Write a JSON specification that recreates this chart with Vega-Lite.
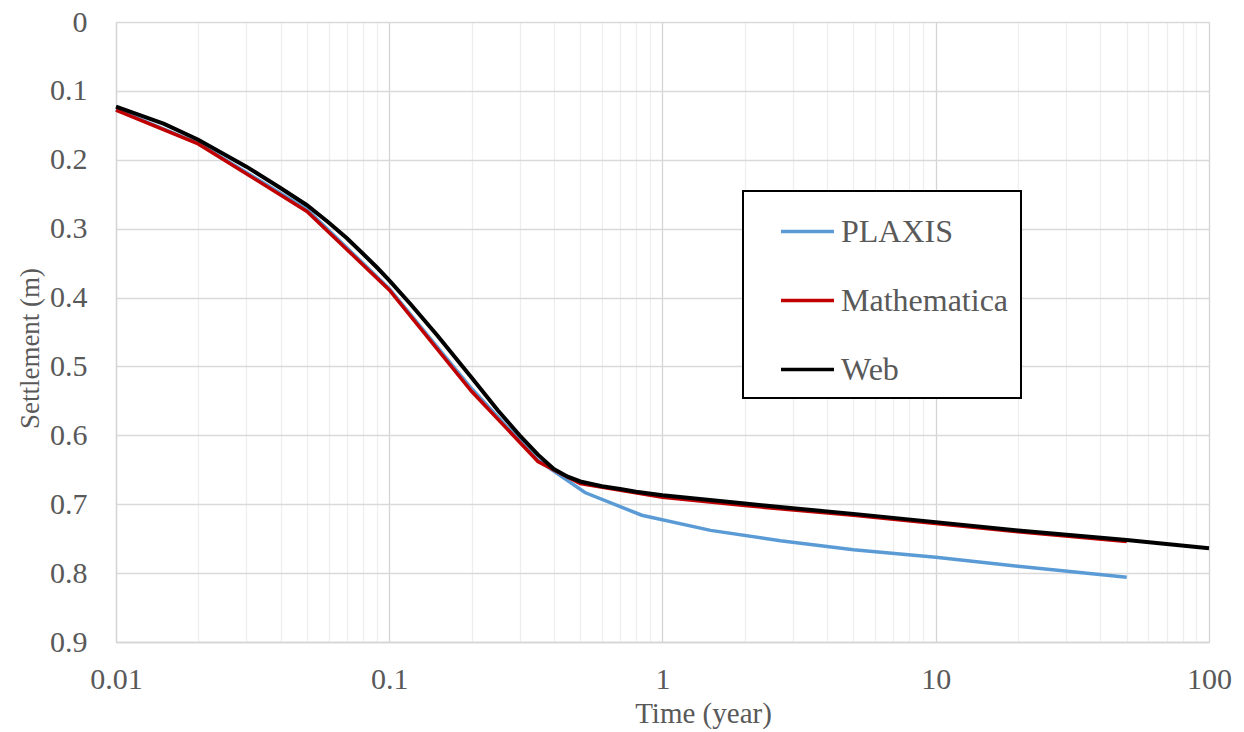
{
  "$schema": "https://vega.github.io/schema/vega-lite/v6.json",
  "width": 1093,
  "height": 620,
  "autosize": {"type": "none"},
  "padding": {"left": 116, "top": 22, "right": 35, "bottom": 90},
  "background": "white",
  "config": {"view": {"stroke": null}, "font": "Liberation Serif"},
  "data": {
    "values": [
      {"series": "PLAXIS", "t": 0.01, "s": 0.127},
      {"series": "PLAXIS", "t": 0.02, "s": 0.176},
      {"series": "PLAXIS", "t": 0.05, "s": 0.272},
      {"series": "PLAXIS", "t": 0.1, "s": 0.387},
      {"series": "PLAXIS", "t": 0.2, "s": 0.532},
      {"series": "PLAXIS", "t": 0.35, "s": 0.636},
      {"series": "PLAXIS", "t": 0.52, "s": 0.683},
      {"series": "PLAXIS", "t": 0.84, "s": 0.716},
      {"series": "PLAXIS", "t": 1.5, "s": 0.738},
      {"series": "PLAXIS", "t": 2.7, "s": 0.753},
      {"series": "PLAXIS", "t": 5, "s": 0.766},
      {"series": "PLAXIS", "t": 10, "s": 0.777},
      {"series": "PLAXIS", "t": 20, "s": 0.79},
      {"series": "PLAXIS", "t": 50, "s": 0.806},
      {"series": "Mathematica", "t": 0.01, "s": 0.128},
      {"series": "Mathematica", "t": 0.02, "s": 0.177},
      {"series": "Mathematica", "t": 0.05, "s": 0.275},
      {"series": "Mathematica", "t": 0.1, "s": 0.389},
      {"series": "Mathematica", "t": 0.2, "s": 0.536},
      {"series": "Mathematica", "t": 0.35, "s": 0.638},
      {"series": "Mathematica", "t": 0.5, "s": 0.67},
      {"series": "Mathematica", "t": 1, "s": 0.69},
      {"series": "Mathematica", "t": 2, "s": 0.702},
      {"series": "Mathematica", "t": 5, "s": 0.716},
      {"series": "Mathematica", "t": 10, "s": 0.728},
      {"series": "Mathematica", "t": 20, "s": 0.74},
      {"series": "Mathematica", "t": 50, "s": 0.754},
      {"series": "Web", "t": 0.01, "s": 0.123},
      {"series": "Web", "t": 0.015, "s": 0.148},
      {"series": "Web", "t": 0.02, "s": 0.171},
      {"series": "Web", "t": 0.03, "s": 0.21},
      {"series": "Web", "t": 0.04, "s": 0.241},
      {"series": "Web", "t": 0.05, "s": 0.266},
      {"series": "Web", "t": 0.06, "s": 0.291},
      {"series": "Web", "t": 0.07, "s": 0.314},
      {"series": "Web", "t": 0.08, "s": 0.336},
      {"series": "Web", "t": 0.09, "s": 0.356},
      {"series": "Web", "t": 0.1, "s": 0.375},
      {"series": "Web", "t": 0.12, "s": 0.41},
      {"series": "Web", "t": 0.15, "s": 0.455},
      {"series": "Web", "t": 0.2, "s": 0.516},
      {"series": "Web", "t": 0.25, "s": 0.564},
      {"series": "Web", "t": 0.3, "s": 0.6},
      {"series": "Web", "t": 0.35, "s": 0.628},
      {"series": "Web", "t": 0.4, "s": 0.649},
      {"series": "Web", "t": 0.45, "s": 0.66},
      {"series": "Web", "t": 0.5, "s": 0.667},
      {"series": "Web", "t": 0.6, "s": 0.674},
      {"series": "Web", "t": 0.7, "s": 0.678},
      {"series": "Web", "t": 0.8, "s": 0.682},
      {"series": "Web", "t": 1, "s": 0.687},
      {"series": "Web", "t": 2, "s": 0.699},
      {"series": "Web", "t": 3, "s": 0.706},
      {"series": "Web", "t": 5, "s": 0.714},
      {"series": "Web", "t": 10, "s": 0.726},
      {"series": "Web", "t": 20, "s": 0.738},
      {"series": "Web", "t": 50, "s": 0.752},
      {"series": "Web", "t": 100, "s": 0.764}
    ]
  },
  "encoding": {
    "x": {
      "field": "t",
      "type": "quantitative",
      "scale": {"type": "log", "domain": [0.01, 100], "nice": false},
      "axis": {
        "values": [0.01, 0.02, 0.03, 0.04, 0.05, 0.06, 0.07, 0.08, 0.09, 0.1, 0.2, 0.3, 0.4, 0.5, 0.6, 0.7, 0.8, 0.9, 1, 2, 3, 4, 5, 6, 7, 8, 9, 10, 20, 30, 40, 50, 60, 70, 80, 90, 100],
        "labelExpr": "indexof([0.01, 0.1, 1, 10, 100], datum.value) >= 0 ? format(datum.value, '.2~f') : ''",
        "grid": true,
        "gridColor": {"condition": {"test": "indexof([0.01, 0.1, 1, 10, 100], datum.value) >= 0", "value": "#D4D4D4"}, "value": "#EEEEEE"},
        "gridWidth": 1.3,
        "ticks": false,
        "domain": true,
        "domainColor": "#D4D4D4",
        "domainWidth": 1.3,
        "labelFontSize": 30,
        "labelColor": "#595959",
        "labelPadding": 22,
        "labelOverlap": false,
        "labelFlush": false,
        "title": "Time (year)",
        "titleFontSize": 29,
        "titleFontWeight": "normal",
        "titleColor": "#595959",
        "titleX": 587,
        "titleY": 71,
        "titleBaseline": "middle",
        "titleAlign": "center"
      }
    },
    "y": {
      "field": "s",
      "type": "quantitative",
      "scale": {"domain": [0, 0.9], "reverse": true, "nice": false, "zero": false},
      "axis": {
        "values": [0, 0.1, 0.2, 0.3, 0.4, 0.5, 0.6, 0.7, 0.8, 0.9],
        "format": ".1~f",
        "grid": true,
        "gridColor": "#D9D9D9",
        "gridWidth": 1.3,
        "ticks": false,
        "domain": true,
        "domainColor": "#D4D4D4",
        "domainWidth": 1.3,
        "labelFontSize": 30,
        "labelColor": "#595959",
        "labelPadding": 29,
        "title": "Settlement (m)",
        "titleFontSize": 27,
        "titleFontWeight": "normal",
        "titleColor": "#595959",
        "titleX": -86,
        "titleY": 326,
        "titleBaseline": "middle",
        "titleAlign": "center"
      }
    },
    "color": {
      "field": "series",
      "type": "nominal",
      "scale": {"domain": ["PLAXIS", "Mathematica", "Web"], "range": ["#5B9BD5", "#C00000", "#000000"]},
      "legend": {
        "orient": "none",
        "legendX": 627,
        "legendY": 169,
        "title": null,
        "symbolType": "stroke",
        "symbolSize": 2809,
        "symbolStrokeWidth": 3.5,
        "symbolOffset": 24,
        "labelFontSize": 32,
        "labelColor": "#595959",
        "labelOffset": 5,
        "labelLimit": 400,
        "rowPadding": 24,
        "padding": 12,
        "strokeColor": "black",
        "fillColor": "white",
        "encode": {"legend": {"update": {"strokeWidth": {"value": 2}}}}
      }
    }
  },
  "layer": [
    {"transform": [{"filter": "datum.series === 'PLAXIS'"}], "mark": {"type": "line", "strokeWidth": 3.5}},
    {"transform": [{"filter": "datum.series === 'Mathematica'"}], "mark": {"type": "line", "strokeWidth": 3.5}},
    {"transform": [{"filter": "datum.series === 'Web'"}], "mark": {"type": "line", "strokeWidth": 4}}
  ]
}
